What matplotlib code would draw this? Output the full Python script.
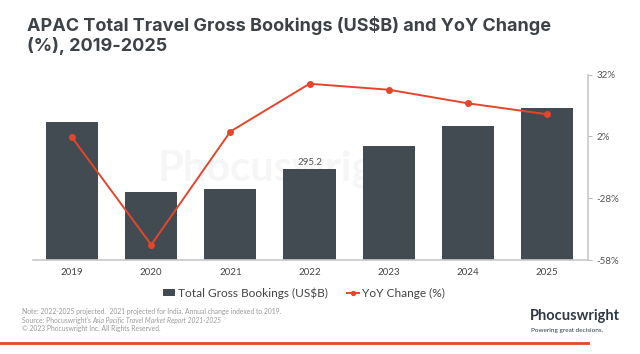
import matplotlib.pyplot as plt
import numpy as np

years = ['2019', '2020', '2021', '2022', '2023', '2024', '2025']
bookings = [448, 220, 230, 295.2, 370, 436, 494]
yoy = [1.5, -50.6, 4.4, 27.6, 24.7, 18.1, 12.8]
yoy_ticks = [-58, -28, 2, 32]

bar_color = '#434b52'
red = '#e5462b'
plt.rcParams['font.family'] = ['Lato', 'DejaVu Sans']

fig = plt.figure(figsize=(6.4, 3.54), dpi=100)
ax = fig.add_axes([0.052, 0.2655, 0.867, 0.5235])
ax2 = ax.twinx()

x = np.arange(len(years))
ax.bar(x, bookings, width=0.66, color=bar_color, zorder=2,
       label='Total Gross Bookings (US$B)')
ax.text(x[3], bookings[3] + 8, '295.2', ha='center', va='bottom',
        fontsize=7, color='#555555', zorder=3)
ax.set_xlim(-0.49, 6.52)
ax.set_ylim(0, 603)
ax.set_yticks([])
ax.set_xticks(x)
ax.set_xticklabels(years, fontsize=7, color='#444444')
ax.tick_params(axis='x', length=0, pad=6)
for s in ['top', 'left', 'right']:
    ax.spines[s].set_visible(False)
ax.spines['bottom'].set_color('#c8c8c8')
ax.spines['bottom'].set_linewidth(1.2)

# watermark behind the bars
ax.text(0.455, 0.49, 'Phocuswright', transform=ax.transAxes, fontsize=30,
        color='#f6f6f6', ha='center', va='center', fontweight='bold',
        zorder=1)

ax2.plot(x, yoy, color=red, lw=1.4, marker='o', ms=4, zorder=3,
         label='YoY Change (%)')
ax2.set_ylim(-58, 32)
ax2.set_yticks(yoy_ticks)
ax2.set_yticklabels([f'{t}%' for t in yoy_ticks], fontsize=7, color='#555555')
ax2.tick_params(axis='y', length=3, color='#bbbbbb', pad=3)
for s in ['top', 'left', 'bottom']:
    ax2.spines[s].set_visible(False)
ax2.spines['right'].set_color('#c8c8c8')
ax2.spines['right'].set_linewidth(1.2)

fig.text(0.042, 0.9, 'APAC Total Travel Gross Bookings (US$B) and YoY Change\n(%), 2019-2025',
         fontsize=13, fontweight='bold', color='#3d4247', va='center',
         linespacing=1.1, family=['Inter', 'DejaVu Sans'])

h1, l1 = ax.get_legend_handles_labels()
h2, l2 = ax2.get_legend_handles_labels()
fig.legend(h1 + h2, l1 + l2, loc='center', bbox_to_anchor=(0.475, 0.172),
           ncol=2, frameon=False, fontsize=8.6, handlelength=1.0,
           handleheight=0.5, handletextpad=0.25, columnspacing=1.6,
           labelcolor='#444444', markerscale=0.7)

note_kw = dict(fontsize=4.9, color='#9a9a9a')
fig.text(0.034, 0.112, 'Note: 2022-2025 projected.  2021 projected for India. Annual change indexed to 2019.',
         **note_kw)
src = fig.text(0.034, 0.088, "Source: Phocuswright's ", **note_kw)
fig.canvas.draw()
bb = src.get_window_extent().transformed(fig.transFigure.inverted())
fig.text(bb.x1, 0.088, 'Asia Pacific Travel Market Report 2021-2025',
         style='italic', **note_kw)
fig.text(0.034, 0.064, '\u00a9 2023 Phocuswright Inc. All Rights Reserved.',
         **note_kw)

fig.text(0.828, 0.095, 'Phocuswright', fontsize=10.5, color='#2f3a44',
         fontweight='bold')
fig.text(0.829, 0.063, 'Powering great decisions.', fontsize=4.6,
         color='#2f3a44')

fig.add_artist(plt.Line2D([0.0, 0.919], [0.031, 0.031], color=red, lw=2,
                          transform=fig.transFigure))

fig.savefig('out.png', dpi=100, facecolor='white')
